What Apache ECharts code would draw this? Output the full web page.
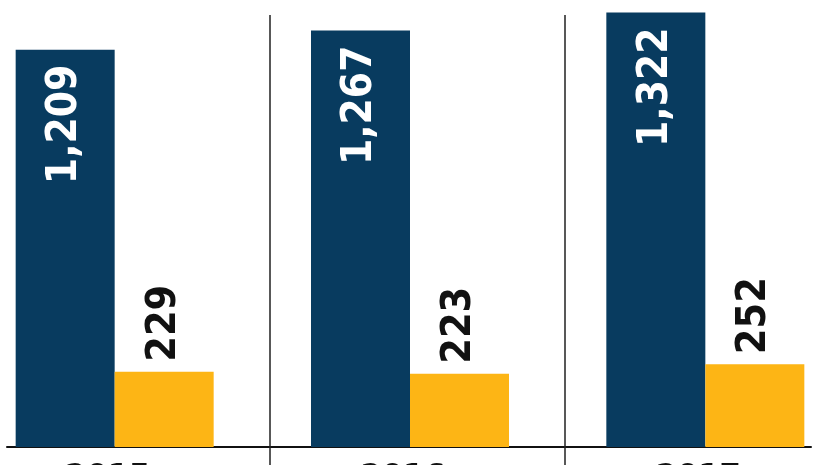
<!DOCTYPE html>
<html>
<head>
<meta charset="utf-8">
<script src="https://cdn.jsdelivr.net/npm/echarts@6/dist/echarts.min.js"></script>
<style>html,body{margin:0;padding:0;background:#fff;}#c{width:826px;height:465px;}</style>
</head>
<body>
<div id="c"></div>
<script>
var categories = ['2015', '2016', '2017'];
var seriesA = [1209, 1267, 1322];
var seriesB = [229, 223, 252];

var FONT = '"Liberation Sans Narrow", "Arial Narrow", "DejaVu Sans Condensed", sans-serif';
var chart = echarts.init(document.getElementById('c'));
chart.setOption({
  animation: false,
  backgroundColor: '#ffffff',
  grid: [
    { left: -33, right: -27, top: 0, bottom: 18, containLabel: false, outerBoundsMode: 'none' },
    { left: -26, right: -34, top: 0, bottom: 18, containLabel: false, outerBoundsMode: 'none' },
    { left: 7, right: 15, top: 0, bottom: 18, containLabel: false, outerBoundsMode: 'none' }
  ],
  xAxis: [{
    gridIndex: 0,
    type: 'category',
    data: categories,
    boundaryGap: true,
    axisLine: { show: false },
    axisTick: { show: false },
    axisLabel: { show: true, color: '#111', fontFamily: FONT, fontWeight: 'bold', fontSize: 34, margin: 15, padding: [0, 14, 0, 0] },
    splitLine: { show: false }
  }, {
    gridIndex: 1,
    type: 'category',
    data: categories,
    boundaryGap: true,
    axisLine: { show: false },
    axisTick: { show: true, inside: true, length: 432, lineStyle: { color: '#222', width: 1.5 } },
    axisLabel: { show: false }
  }, {
    gridIndex: 1,
    type: 'category',
    data: categories,
    position: 'bottom',
    boundaryGap: true,
    axisLine: { show: false },
    axisTick: { show: true, inside: false, length: 30, lineStyle: { color: '#222', width: 1.5 } },
    axisLabel: { show: false }
  }, {
    gridIndex: 2,
    type: 'category',
    data: categories,
    boundaryGap: true,
    axisLine: { show: true, lineStyle: { color: '#111', width: 2 } },
    axisTick: { show: false },
    axisLabel: { show: false }
  }],
  yAxis: [
    { gridIndex: 0, type: 'value', min: 0, max: 1360, show: false, splitLine: { show: false } },
    { gridIndex: 1, type: 'value', min: 0, max: 1360, show: false, splitLine: { show: false } },
    { gridIndex: 2, type: 'value', min: 0, max: 1360, show: false, splitLine: { show: false } }
  ],
  series: [{
    type: 'bar',
    xAxisIndex: 0, yAxisIndex: 0,
    data: seriesA,
    barWidth: 99,
    barGap: '0%',
    z: 3,
    itemStyle: { color: '#083B5F' },
    label: {
      show: true, position: 'insideTop', rotate: 90, distance: 15,
      align: 'right', verticalAlign: 'middle',
      color: '#ffffff', fontFamily: FONT, fontWeight: 'bold', fontSize: 42,
      formatter: function (p) { return p.value.toLocaleString('en-US'); }
    }
  }, {
    type: 'bar',
    xAxisIndex: 0, yAxisIndex: 0,
    data: seriesB,
    barWidth: 99,
    barGap: '0%',
    z: 3,
    itemStyle: { color: '#FDB515' },
    label: {
      show: true, position: 'top', rotate: 90, distance: 10,
      align: 'left', verticalAlign: 'middle',
      color: '#111111', fontFamily: FONT, fontWeight: 'bold', fontSize: 41,
      formatter: function (p) { return p.value.toLocaleString('en-US'); }
    }
  }]
});
</script>
</body>
</html>
